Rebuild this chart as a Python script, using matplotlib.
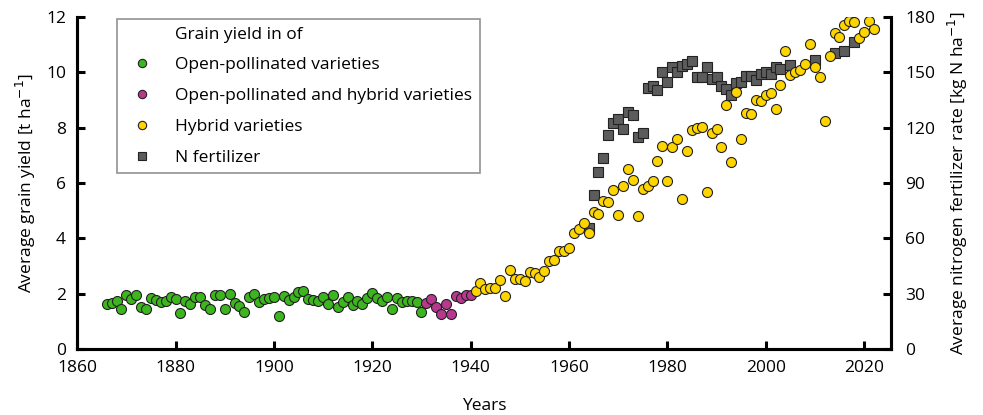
import matplotlib
matplotlib.use("Agg")
import matplotlib.pyplot as plt
from matplotlib.lines import Line2D

plt.rcParams['font.family'] = ['Open Sans', 'DejaVu Sans']

# ---------------- data ----------------
op_years = list(range(1866, 1931))
op_yield = [1.62, 1.65, 1.73, 1.45, 1.95, 1.80, 1.95, 1.53, 1.45, 1.83,
            1.77, 1.71, 1.73, 1.89, 1.81, 1.31, 1.75, 1.62, 1.89, 1.89,
            1.59, 1.43, 1.95, 1.95, 1.45, 1.98, 1.65, 1.57, 1.34, 1.87,
            1.99, 1.69, 1.80, 1.85, 1.89, 1.20, 1.91, 1.77, 1.89, 2.05,
            2.11, 1.81, 1.77, 1.73, 1.89, 1.62, 1.95, 1.51, 1.69, 1.89,
            1.59, 1.73, 1.62, 1.83, 2.01, 1.83, 1.73, 1.89, 1.45, 1.83,
            1.71, 1.73, 1.73, 1.71, 1.35]

mix_years = list(range(1931, 1941))
mix_yield = [1.66, 1.79, 1.53, 1.25, 1.62, 1.25, 1.91, 1.85, 1.97, 1.94]

hyb_years = list(range(1941, 2023))
hyb_yield = [2.08, 2.37, 2.17, 2.20, 2.22, 2.48, 1.90, 2.87, 2.54, 2.54,
             2.47, 2.80, 2.73, 2.62, 2.82, 3.17, 3.23, 3.53, 3.55, 3.66,
             4.18, 4.34, 4.55, 4.21, 4.95, 4.89, 5.36, 5.31, 5.75, 4.85,
             5.90, 6.50, 6.12, 4.82, 5.79, 5.90, 6.08, 6.78, 7.34, 6.09,
             7.30, 7.59, 5.43, 7.16, 7.90, 7.99, 8.02, 5.68, 7.80, 7.94,
             7.29, 8.81, 6.76, 9.28, 7.60, 8.52, 8.50, 9.01, 8.96, 9.19,
             9.26, 8.67, 9.54, 10.76, 9.92, 10.00, 10.10, 10.29, 11.01, 10.20,
             9.84, 8.25, 10.59, 11.44, 11.29, 11.71, 11.85, 11.81, 11.23, 11.47,
             11.85, 11.55]

n_years = list(range(1964, 2004)) + [2005, 2010, 2014, 2016, 2018]
n_rate = [65.4, 83.5, 95.8, 103.7, 116.0, 122.7, 124.7, 119.3, 128.3, 126.9,
          114.8, 116.9, 141.7, 142.7, 140.4, 150.3, 144.9, 153.0, 150.3, 153.4,
          154.4, 156.3, 147.3, 147.3, 153.0, 146.2, 147.3, 142.6, 140.8, 137.7,
          144.4, 145.0, 148.0, 148.0, 146.0, 149.0, 150.0, 149.0, 153.0, 152.0,
          154.0, 156.7, 160.6, 161.7, 166.3]

x_ticks = [1860, 1880, 1900, 1920, 1940, 1960, 1980, 2000, 2020]
y_ticks = [0, 2, 4, 6, 8, 10, 12]
y2_ticks = [0, 30, 60, 90, 120, 150, 180]

# ---------------- figure ----------------
fig = plt.figure(figsize=(9.83, 4.15), dpi=100)
ax = fig.add_axes([0.0785, 0.159, 0.828, 0.8])
ax2 = ax.twinx()
ax.set_zorder(ax2.get_zorder() + 1)
ax.patch.set_visible(False)

ms = 7.2
edge = '#222222'
ax2.plot(n_years, n_rate, 's', ms=ms, color='#5c5c5c', mec='#222222', mew=0.8)
ax.plot(op_years, op_yield, 'o', ms=ms, color='#3db51e', mec=edge, mew=0.8)
ax.plot(mix_years, mix_yield, 'o', ms=ms, color='#b83890', mec=edge, mew=0.8)
ax.plot(hyb_years, hyb_yield, 'o', ms=ms, color='#ffd500', mec=edge, mew=0.8)

ax.set_xlim(1860, 2025.5)
ax.set_ylim(0, 12)
ax2.set_ylim(0, 180)
ax.set_xticks(x_ticks)
ax.set_yticks(y_ticks)
ax2.set_yticks(y2_ticks)

for a in (ax, ax2):
    a.spines['top'].set_visible(False)
    for s in a.spines.values():
        s.set_linewidth(2.2)
    a.tick_params(direction='in', length=6, width=2.2, labelsize=12.5, colors='black')
ax.tick_params(axis='x', pad=8)
ax.tick_params(axis='y', pad=8)
ax2.tick_params(axis='y', pad=10)

ax.set_xlabel('Years', fontsize=12.5, labelpad=16)
ax.set_ylabel('Average grain yield [t ha$^{-1}$]', fontsize=12.5, labelpad=6)
ax2.set_ylabel('Average nitrogen fertilizer rate [kg N ha$^{-1}$]', fontsize=12.5, labelpad=8)

handles = [
    Line2D([], [], linestyle='none', marker=None),
    Line2D([], [], linestyle='none', marker='o', ms=6, color='#3db51e', mec=edge, mew=0.8),
    Line2D([], [], linestyle='none', marker='o', ms=6, color='#b83890', mec=edge, mew=0.8),
    Line2D([], [], linestyle='none', marker='o', ms=6, color='#ffd500', mec=edge, mew=0.8),
    Line2D([], [], linestyle='none', marker='s', ms=6, color='#5c5c5c', mec='#222222', mew=0.8),
]
labels = ['Grain yield in of', 'Open-pollinated varieties',
          'Open-pollinated and hybrid varieties', 'Hybrid varieties', 'N fertilizer']
leg = ax.legend(handles, labels, loc='upper left', bbox_to_anchor=(0.049, 0.995),
                borderaxespad=0, frameon=True, fancybox=False, fontsize=12.5,
                labelspacing=0.84, handletextpad=0.9, borderpad=0.45)
leg.get_frame().set_edgecolor('#777777')
leg.get_frame().set_linewidth(1.2)

fig.savefig('out.png', dpi=100)
